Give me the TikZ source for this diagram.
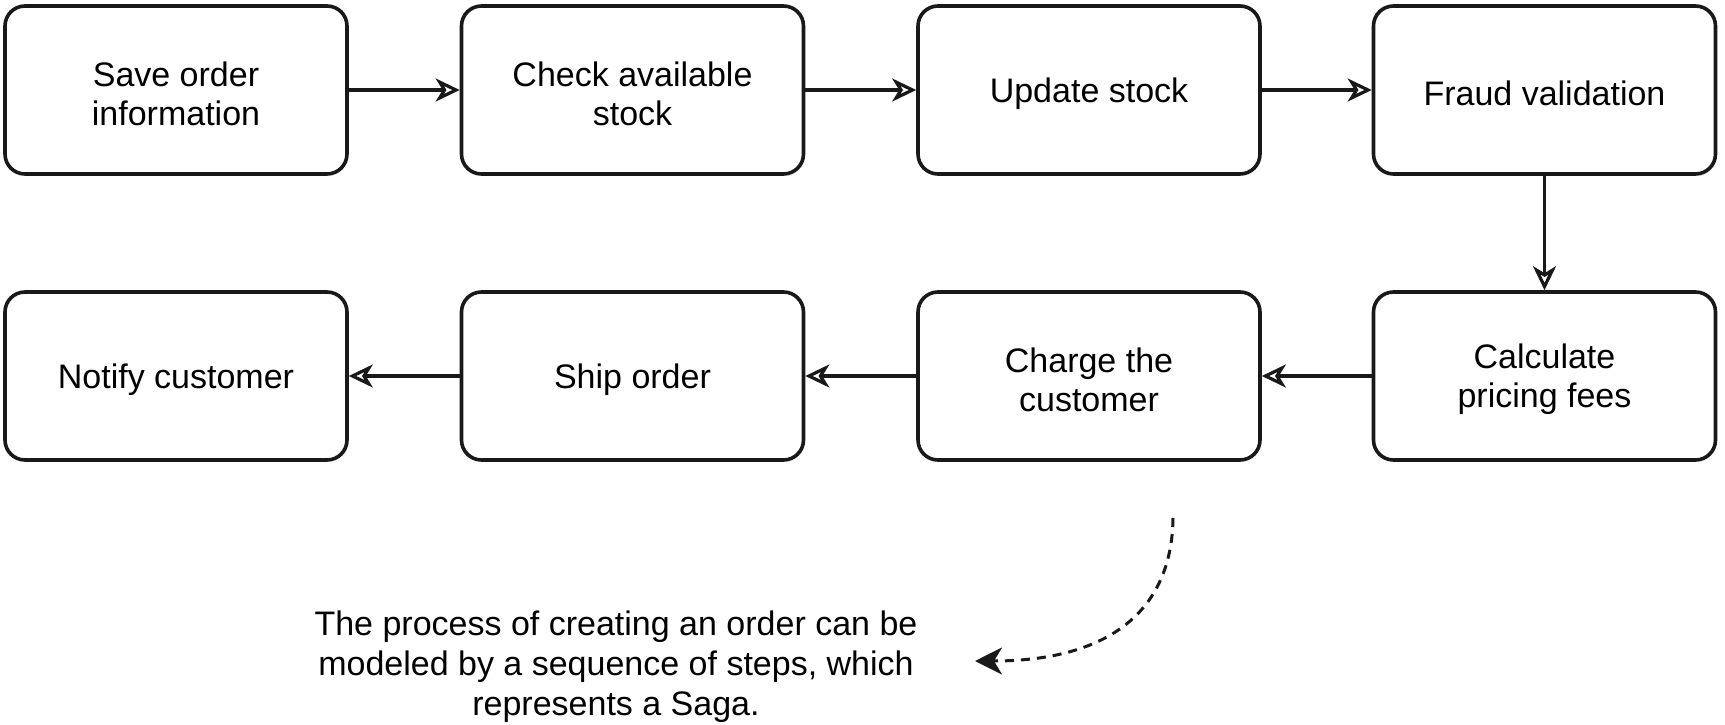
\documentclass[tikz,border=0pt]{standalone}
\usepackage{fontspec}
\setmainfont{Liberation Sans}
\usetikzlibrary{arrows.meta}
\begin{document}
\begin{tikzpicture}[x=1pt,y=-1pt,
  stepbox/.style={draw=black!90, line width=3.6pt, rounded corners=20pt, minimum width=342pt, minimum height=168pt, inner sep=0pt},
  steptext/.style={align=center, font=\fontsize{34}{39}\selectfont, inner sep=0pt, yshift=-3.5pt},
  flow/.style={draw=black!90, line width=3.2pt, -{Stealth[open, length=24pt, width=23pt, inset=7pt]}},
  note/.style={align=center, font=\fontsize{34}{40}\selectfont, inner sep=0pt},
  hint/.style={draw=black!90, line width=3pt, dash pattern=on 9pt off 7pt, -{Stealth[length=27pt, width=27pt, inset=8pt]}}
]
\useasboundingbox (0,0) rectangle (1725,725);
\node[stepbox, label={[steptext]center:{Save order\\information}}] (b1) at (176,90) {};
\node[stepbox, label={[steptext]center:{Check available\\stock}}] (b2) at (632.5,90) {};
\node[stepbox, label={[steptext]center:{Update stock}}] (b3) at (1089,90) {};
\node[stepbox, label={[steptext]center:{Fraud validation}}] (b4) at (1544.5,90) {};
\node[stepbox, label={[steptext]center:{Calculate\\pricing fees}}] (b5) at (1544.5,376) {};
\node[stepbox, label={[steptext]center:{Charge the\\customer}}] (b6) at (1089,376) {};
\node[stepbox, label={[steptext]center:{Ship order}}] (b7) at (632.5,376) {};
\node[stepbox, label={[steptext]center:{Notify customer}}] (b8) at (176,376) {};
\draw[flow] (b1) -- (b2);
\draw[flow] (b2) -- (b3);
\draw[flow] (b3) -- (b4);
\draw[flow] (b4) -- (b5);
\draw[flow] (b5) -- (b6);
\draw[flow] (b6) -- (b7);
\draw[flow] (b7) -- (b8);
\node[note] (txt) at (616,667) {The process of creating an order can be\\modeled by a sequence of steps, which\\represents a Saga.};
\coordinate (hs) at (1173,518);
\coordinate (he) at (975,661);
\draw[hint] (hs) .. controls (1172,610) and (1110,661) .. (he);
\end{tikzpicture}
\end{document}
